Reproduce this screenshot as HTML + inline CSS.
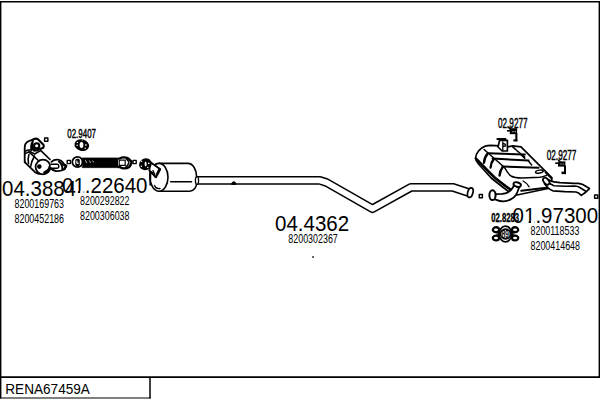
<!DOCTYPE html>
<html><head><meta charset="utf-8">
<style>
html,body{margin:0;padding:0;background:#fff;}
body{width:600px;height:400px;overflow:hidden;position:relative;}
svg{position:absolute;left:0;top:0;}
text{font-family:"Liberation Sans",sans-serif;fill:#000;}
</style></head><body>
<svg width="600" height="400" viewBox="0 0 600 400">
<!-- frame -->
<path d="M0 1.8 H600" stroke="#000" stroke-width="1.6" fill="none"/>
<path d="M0.7 1 V398.6 M599.3 1 V377.5" stroke="#000" stroke-width="1.4" fill="none"/>
<path d="M0 377.2 H600" stroke="#000" stroke-width="1.7" fill="none"/>
<path d="M150 377 V398.5" stroke="#000" stroke-width="1.5" fill="none"/>
<path d="M0 398 H150.7" stroke="#000" stroke-width="1.1" fill="none"/>
<text transform="translate(5.3,393.8) scale(1,1.08)" font-size="13.6">RENA67459A</text>

<g fill="none" stroke="#000" stroke-linejoin="round" stroke-linecap="round">
<!-- ===== catalytic converter ===== -->
<path d="M24.7 162.2 V147.5 C24.7 145 25.5 143.3 26.8 142.3 C28 141.3 29.8 140.6 32.8 139.7" stroke-width="1.8"/>
<path d="M24.7 162.2 L35 172.2 C37 173.6 39 174 41.5 174" stroke-width="1.8"/>
<path d="M40.6 150.4 L50 159.5" stroke-width="1.7"/>
<circle cx="43" cy="167" r="7.4" stroke-width="1.8" fill="#fff"/>
<path d="M44.5 172.5 C47.5 171.5 49.5 169.5 50 166.5" stroke-width="2.8"/>
<ellipse cx="39.3" cy="166.6" rx="2.3" ry="2.4" fill="#000" stroke="none"/>
<path d="M29.2 152.2 L38.9 161" stroke-width="1.6"/>
<path d="M24.7 153.9 L29.2 151.8" stroke-width="1.6"/>
<path d="M29.8 151.3 L34.6 154 L40.2 150.9" stroke-width="1.5"/>
<path d="M28.9 154.5 C28 157.5 27.9 160.5 28.5 163.6" stroke-width="1.6"/>
<path d="M34.5 156 C32.5 159.5 31 163 30.5 167" stroke-width="1.6"/>
<path d="M24.7 151.6 C26 150.5 28 149.9 31 149.8" stroke-width="1.4"/>
<path d="M31.6 143.2 C31 145.5 31 148 31.3 150.2" stroke-width="1.8"/>
<!-- flange -->
<path d="M32.8 139.8 C33.5 139 34.5 138.7 36 138.6 L38 139.2 L43.6 145 C43.9 146 43.7 147 43.3 147.7 L40 149 L37 150.4 H34.2 L32.5 149.2 C32.2 146 32.3 142.5 32.8 139.8 Z" stroke-width="2.1" fill="#fff"/>
<circle cx="36.7" cy="145.8" r="2.6" stroke-width="2.1"/>
<path d="M32.2 147.2 L34.3 150.3" stroke-width="2.4"/>
<rect x="44.6" y="138" width="3.3" height="3.3" stroke-width="1.4"/>

<!-- connector bend -->
<path d="M51.4 161.9 C53 160.3 55 159.6 57.7 159.7 C60 159.8 62 161 64 164.2 L66.5 165.8 C66 167.5 65 168.5 63.5 169.8 C61 171 58 171.3 56 171 C53.5 170.5 51.5 169.5 50.3 167.7" stroke-width="1.8" fill="#fff"/>
<path d="M51.4 164.2 H57.4 C59.2 164.2 59.4 168.1 57.4 168.2 H51" stroke-width="1.5"/>
<path d="M59 161.6 C61.5 163.3 62.6 166 62.4 169.6" stroke-width="2"/>
<path d="M63.2 164.2 L66 166 L64.5 169" stroke-width="2.4"/>
<rect x="67.2" y="160.4" width="3.2" height="3.2" stroke-width="1.4"/>
<!-- flange ring -->
<circle cx="77.5" cy="162" r="5.2" stroke-width="1.8" fill="#fff"/>
<rect x="75.3" y="158.8" width="4.5" height="7.6" rx="1.8" fill="#000" stroke="none"/>
<path d="M76.8 160.8 V163.5 H78.3 M76.8 162.2 H78" stroke="#fff" stroke-width="0.8"/>
<!-- flex pipe -->
<path d="M82.5 158 H116.5 C118.8 158 119.2 167.6 116.5 167.6 H82.5 Z" fill="#000" stroke-width="0.8"/>
<path d="M85.5 160.5 l1.2 2.2 M89.5 160.8 l1 1.8 M92.5 161 l1.3 1" stroke="#fff" stroke-width="0.7"/>
<!-- connector right -->
<path d="M118 158.6 L120 158.3 C121.5 157.5 123 157.3 124.4 157.4 C126.5 157.6 128 158.2 129 159 L131.7 161.9 C131 164.5 130.2 166 129.3 167 C127.5 168.2 126 168.4 124.4 168.4 C122.5 168.4 121 167.8 119.9 167 L118 167" stroke-width="2.3" fill="#fff"/>
<rect x="119.2" y="160.2" width="6" height="5.2" stroke-width="1.2"/>
<path d="M126.3 158.8 C128.3 160.3 129 161.8 128.8 163 C128.4 164.6 127.3 166 125.6 167.3" stroke-width="1.6"/>
<rect x="133" y="160.4" width="3.2" height="3.2" stroke-width="1.4"/>
<!-- ===== center muffler ===== -->
<path d="M159 163.4 H188 C193 163.4 196.6 170 196.6 176.4 V183 C196.6 187 194 191.2 189.8 191.2 H159" stroke-width="1.6" fill="#fff"/>
<ellipse cx="159" cy="177.3" rx="9" ry="13.9" stroke-width="1.6" fill="#fff"/>
<path d="M170.7 181.7 H191.5" stroke-width="1.5"/>
<path d="M154.5 185.5 C155.5 188 157.5 189 160 188.5" stroke-width="1.3"/>
<path d="M152.5 171 L157 166.5 M154 174 L158 170" stroke-width="1.3"/>
<path d="M150.5 171.5 L150.5 179" stroke-width="1.5"/>

<path d="M150.5 162.3 L160.3 169.3 L156 177.3 L149.3 170.3 Z" stroke-width="1.8" fill="#fff"/>
<path d="M159.5 168.8 L157 174" stroke-width="2"/><path d="M153 170.5 L155 175" stroke-width="1.3"/>
<!-- flange before muffler -->
<ellipse cx="145.4" cy="164.2" rx="6.4" ry="5.8" transform="rotate(-25 145.4 164.2)" fill="#000" stroke="none"/>
<ellipse cx="145.6" cy="164" rx="1" ry="2.6" fill="#fff" stroke="none"/>
<circle cx="141.5" cy="161.2" r="0.8" fill="#fff" stroke="none"/>
<circle cx="141.4" cy="166.3" r="0.8" fill="#fff" stroke="none"/>
<circle cx="148.8" cy="163.4" r="0.8" fill="#fff" stroke="none"/>
<circle cx="147.8" cy="167.4" r="0.7" fill="#fff" stroke="none"/>
<path d="M149.9 171 L150.3 185" stroke-width="1.6"/>
<path d="M151.7 172 L155.2 177" stroke-width="1.5"/>
<!-- ===== long pipe ===== -->
<path d="M196.5 180.4 H320 L326.5 182.5 L372.5 208.7 L411 187.3 H452.5 L468.5 192.5" stroke-width="8.8" stroke-linejoin="round" stroke-linecap="butt"/>
<path d="M196.5 180.4 H320 L326.5 182.5 L372.5 208.7 L411 187.3 H452.5 L468.5 192.5" stroke="#fff" stroke-width="5.8" stroke-linejoin="round" stroke-linecap="butt"/>
<ellipse cx="197" cy="180.5" rx="1.6" ry="3.8" stroke-width="1.3" fill="#fff"/>
<ellipse cx="470.3" cy="192.6" rx="2.6" ry="4.9" transform="rotate(15 470.3 192.6)" stroke-width="1.7" fill="#fff"/>
<path d="M231.6 184 C231.6 181 236 181 236 184 Z" fill="#000" stroke-width="1"/>
<rect x="479.2" y="194.5" width="3.2" height="3.2" stroke-width="1.4"/>

<!-- ===== rear muffler ===== -->
<path d="M475.5 158.3 C475.8 155.5 476.8 153 478.5 151 C480.5 148.5 483 146.8 485.3 146.1 C487 145.6 489 145.4 490.5 145.4 L495.8 145.7 L507.5 146.9 L512.8 145.8 L521 146.9 L552 177.8 L550.5 188 L517 195 L508.5 191.5 C502 186.5 495.5 181.5 491.2 178 L478.5 164 C476.8 162 475.6 160.3 475.5 158.3 Z" stroke-width="1.7" fill="#fff"/>
<path d="M476 158.6 L489 172 L495.1 178 C500.5 182.3 505.5 186.3 510.8 189.8" stroke-width="2.6"/>
<path d="M484.1 149.5 L504.5 167.5 C506.5 171 508 174 511 176 C514 177.7 518 178 522 178.1 L540 177.2 C543 176.8 545 176 546.4 175.5" stroke-width="1.5"/>
<!-- ribs -->
<path d="M488.5 153.3 L524.8 154.6 M492.6 158.6 L528.6 160.5 M502.5 166.5 L538.5 167.8" stroke-width="2"/>
<path d="M512.8 147.3 L524.8 157 M514.3 148 L518 151.8 M520.3 154 L524.8 158.5 M528 160.5 L531.7 165" stroke-width="1.4"/>
<path d="M487.6 153.6 C485.5 156 484.2 159 484 162.8 M493.6 159.4 C491.8 161.5 490.8 164 490.6 167.5 M502.8 167 C500.8 169.5 499.8 172 499.6 175.5" stroke-width="2.4"/>
<path d="M521.2 190.7 L546.4 187.8" stroke-width="1.9"/>
<path d="M523.1 181 C526 182.5 528 184.5 529 186.8" stroke-width="1.4"/>
<ellipse cx="539.4" cy="171.6" rx="3.9" ry="1.5" transform="rotate(-10 539.4 171.6)" stroke-width="1.5"/>
<path d="M545.3 172.5 L551.3 178.5" stroke-width="1.3"/>
<!-- hanger on top -->
<path d="M498 147 L499.6 140.3 H507.4 V151 H502.2 L498 147 Z" stroke-width="1.7" fill="#fff"/>
<path d="M497.4 139.1 H505.5" stroke-width="2"/>
<path d="M502.8 141.8 V150.5 M503 143.8 C505 143.5 506 144.5 505.3 146 L503 146.5" stroke-width="1.3"/>
<!-- inlet pipe -->
<path d="M495 194.2 L502.2 193.9 C504 193.6 506 193.2 507.4 192.6 C509 191.8 510.5 190.8 511.3 189.7 C512.5 188.3 513.4 186.8 514 185 L519.3 186.2 C519 188 518.6 189 518.2 190 C517.5 192 516.8 193.5 515.9 194.9 C514.5 197 512.8 198.5 510.7 199.4 C508.5 200.6 506 201.3 503.5 201.4 C501 201.4 498 200.6 495.7 199.6" stroke-width="1.8" fill="#fff"/>
<ellipse cx="492.5" cy="195.2" rx="3.1" ry="4.9" stroke-width="2" fill="#fff"/>
<ellipse cx="517.2" cy="184.6" rx="3.8" ry="2.2" transform="rotate(15 517.2 184.6)" stroke-width="1.9" fill="#fff"/>
<!-- tail pipe -->
<path d="M545.6 178.2 C548 179.5 551 181.3 554 181.8 L560 182.7 L574 183.3 L578.3 183.4 C580 183.6 581.5 184 582.8 184.5 L589.5 188.6 L585 192.8 L581.3 195.4 C579.5 193.5 578 192.3 576 192 L564.8 191.7 L552.8 190.8 C550.5 190 549 189 548 187.8 L544.4 183.6" stroke-width="1.7" fill="#fff"/>
<path d="M547.4 180.6 C548.5 182 549.5 183.3 551 184.2 C552 185 553 185.5 554 185.7 L564.8 186.3 L574.5 186 C576.5 186 578.5 186.6 579.8 187.5 L585.8 191.3" stroke-width="1.6"/>
<ellipse cx="546.2" cy="181.2" rx="2.4" ry="4" transform="rotate(-40 546.2 181.2)" stroke-width="1.8" fill="#fff"/>
<rect x="594.6" y="195" width="3.2" height="3.2" stroke-width="1.4"/>

<!-- gasket 02.8283 -->
<path d="M494 230 L517 238 M494 238 L517 230" stroke-width="4.5"/>
<ellipse cx="496.2" cy="229.6" rx="3.9" ry="3.6" fill="#000" stroke="none"/>
<ellipse cx="514.9" cy="229.6" rx="3.9" ry="3.6" fill="#000" stroke="none"/>
<ellipse cx="496.2" cy="238" rx="3.9" ry="3.6" fill="#000" stroke="none"/>
<ellipse cx="514.9" cy="238" rx="3.9" ry="3.6" fill="#000" stroke="none"/>
<ellipse cx="496" cy="229.8" rx="2" ry="1.3" fill="#fff" stroke="none"/>
<ellipse cx="515.1" cy="229.8" rx="2" ry="1.3" fill="#fff" stroke="none"/>
<ellipse cx="496" cy="238" rx="2" ry="1.3" fill="#fff" stroke="none"/>
<ellipse cx="515.1" cy="238" rx="2" ry="1.3" fill="#fff" stroke="none"/>
<ellipse cx="505.4" cy="234" rx="6.2" ry="7.8" stroke-width="1.8" fill="#fff"/>
<circle cx="505.5" cy="234" r="4.9" stroke-width="1.6" fill="#fff"/>
</g>
<!-- clamps -->
<g fill="#000">
<rect x="507" y="130" width="4.5" height="1.6"/>
<rect x="509.8" y="128.2" width="7.3" height="6"/>
<path d="M507.2 126.8 L509 126.5 L511.5 129 L510 130 Z"/>
<rect x="515.3" y="133" width="2.1" height="8.3"/>
<rect x="513.3" y="139.4" width="4.1" height="2"/>
<rect x="555.2" y="162.4" width="4.5" height="1.6"/>
<rect x="558" y="161.4" width="7.4" height="5.2"/>
<path d="M557.2 159.6 L559 159.4 L561.3 162 L559.8 163 Z"/>
<rect x="564" y="165.5" width="2" height="8.6"/>
<rect x="561.5" y="171.6" width="4.4" height="2.5"/>
</g>
<g fill="#fff">
<circle cx="513" cy="131.6" r="0.6"/><circle cx="515.2" cy="131.6" r="0.6"/>
<circle cx="561" cy="164" r="0.6"/><circle cx="563.2" cy="164" r="0.6"/>
</g>
<!-- gasket 02.9407 -->
<ellipse cx="81.8" cy="145.1" rx="7.4" ry="5.8" transform="rotate(15 81.8 145.1)" fill="#000"/>
<ellipse cx="81.5" cy="145.1" rx="1.9" ry="3" fill="#fff"/>
<circle cx="77.4" cy="142.4" r="0.7" fill="#fff"/><circle cx="77.2" cy="145.3" r="0.7" fill="#fff"/><circle cx="85.9" cy="145" r="0.9" fill="#ccc"/><circle cx="85.2" cy="148.3" r="0.7" fill="#fff"/><circle cx="82.3" cy="140.4" r="0.5" fill="#aaa"/>

<text transform="translate(501.8,237.9) scale(0.6,1)" font-size="10.5" stroke="#000" stroke-width="0.4">89</text>
<rect x="312.1" y="256.1" width="1.9" height="1.9" fill="#555"/>

<!-- labels narrow -->
<g stroke="#000" stroke-width="0.45">
<text transform="translate(67.2,137.6) scale(0.6,1)" font-size="13.3">02.9407</text>
<text transform="translate(498,127.5) scale(0.58,1)" font-size="14.1">02.9277</text>
<text transform="translate(546.7,159.8) scale(0.58,1)" font-size="14.2">02.9277</text>
<text transform="translate(491.2,221.6) scale(0.645,1)" font-size="12" font-weight="bold" stroke-width="0.35">02.8283</text>
</g>

<!-- big numbers -->
<g font-size="20.5">
<text transform="translate(2,196) scale(1,1.04)">04.3884</text>
<text transform="translate(62,192.6) scale(1,1.04)">01.22640</text>
<text transform="translate(275,231.3) scale(1,1.04)">04.4362</text>
<text transform="translate(512.6,222.7) scale(1,1.04)">01.97300</text>
</g>
<g fill="#fff">
<rect x="75.3" y="190.7" width="2.6" height="2.4"/><rect x="80.2" y="190.7" width="3.4" height="2.4"/>
<rect x="524.8" y="220.7" width="3.9" height="2.4"/><rect x="531" y="220.7" width="3.6" height="2.4"/>
</g>
<!-- small part numbers -->
<g font-size="12.2">
<text transform="translate(14.5,208.4) scale(0.73,1)">8200169763</text>
<text transform="translate(14.5,223) scale(0.73,1)">8200452186</text>
<text transform="translate(80,204.9) scale(0.73,1)">8200292822</text>
<text transform="translate(80,219.7) scale(0.73,1)">8200306038</text>
<text transform="translate(288.3,243) scale(0.73,1)">8200302367</text>
<text transform="translate(530.5,235) scale(0.73,1)">8200118533</text>
<text transform="translate(530.5,250) scale(0.73,1)">8200414648</text>
</g>
</svg>
</body></html>
